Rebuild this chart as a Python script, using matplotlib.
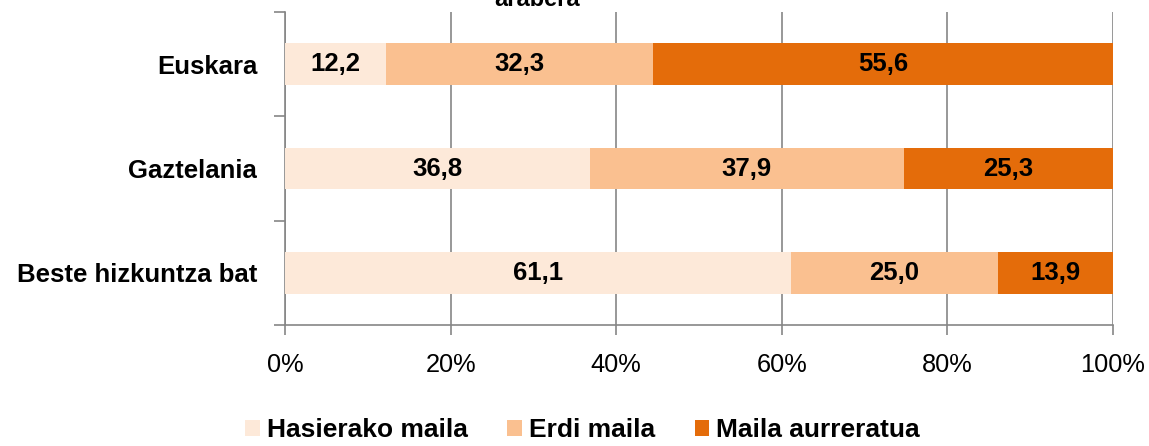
import matplotlib.pyplot as plt
from matplotlib.patches import Patch
from matplotlib.ticker import FixedLocator, PercentFormatter

plt.rcParams["font.family"] = ["Liberation Sans", "DejaVu Sans"]

categories = ["Euskara", "Gaztelania", "Beste hizkuntza bat"]
series_names = ["Hasierako maila", "Erdi maila", "Maila aurreratua"]
hasierako = [12.2, 36.8, 61.1]
erdi = [32.3, 37.9, 25.0]
aurreratua = [55.6, 25.3, 13.9]
colors = ["#FDE9D9", "#FAC090", "#E46C0A"]


def main() -> None:
    fig = plt.figure(figsize=(11.49, 4.46), dpi=100)
    ax = fig.add_axes([0.248, 0.271, 0.7207, 0.702])

    ypos = list(range(len(categories)))
    left = [0.0] * len(categories)
    for name, vals, col in zip(series_names, [hasierako, erdi, aurreratua], colors):
        ax.barh(ypos, vals, left=left, height=0.4, color=col, label=name, zorder=3)
        for y, l, v in zip(ypos, left, vals):
            ax.text(l + v / 2, y, f"{v:.1f}".replace(".", ","), ha="center", va="center",
                    fontsize=18.5, fontweight="bold", color="black", zorder=4)
        left = [a + b for a, b in zip(left, vals)]

    ax.set_xlim(0, 100)
    ax.set_ylim(len(categories) - 0.5, -0.5)
    ax.set_xticks([0, 20, 40, 60, 80, 100])
    ax.xaxis.set_major_formatter(PercentFormatter(decimals=0))
    ax.set_yticks(ypos)
    ax.set_yticklabels(categories, fontsize=18.5, fontweight="bold")
    ax.yaxis.set_minor_locator(FixedLocator([-0.5, 0.5, 1.5, 2.5]))

    ax.tick_params(axis="y", which="major", length=0, pad=20)
    ax.tick_params(axis="y", which="minor", length=8, color="#868686", width=1.2)
    ax.tick_params(axis="x", length=7, color="#868686", width=1.2, labelsize=18.3, pad=13)

    for s in ["top", "right"]:
        ax.spines[s].set_visible(False)
    for s in ["left", "bottom"]:
        ax.spines[s].set_color("#868686")
        ax.spines[s].set_linewidth(1.2)

    ax.grid(axis="x", color="#868686", linewidth=1.2, zorder=0)

    fig.text(0.467, 1.0, "arabera", ha="center", va="center",
             fontsize=17, fontweight="bold")

    handles = [Patch(facecolor=c, edgecolor="none") for c in colors]
    fig.legend(handles, series_names, loc="center", bbox_to_anchor=(0.507, 0.035),
               ncol=3, frameon=False, prop={"weight": "bold", "size": 19},
               handlelength=0.55, handleheight=0.55, handletextpad=0.27,
               columnspacing=1.5, borderpad=0)

    fig.savefig("out.png", dpi=100)
    plt.close(fig)


if __name__ == "__main__":
    main()
